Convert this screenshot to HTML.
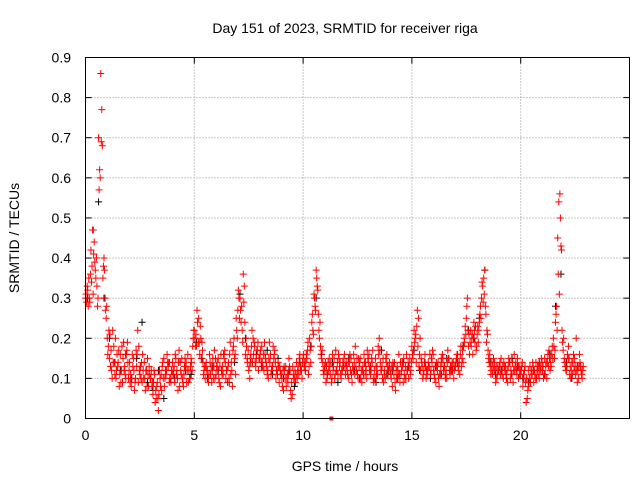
<!DOCTYPE html>
<html><head><meta charset="utf-8"><style>
html,body{margin:0;padding:0;background:#fff;}
svg{display:block;font-family:"Liberation Sans",sans-serif;}
</style></head><body>
<svg id="chart" width="640" height="480" viewBox="0 0 640 480">
<rect width="640" height="480" fill="#fff"/>
<g id="grid"></g>
<g id="ticks"></g>
<g id="black"></g>
<g id="red"></g>
<rect x="85.5" y="57.5" width="544" height="361" fill="none" stroke="#000"/>
<text x="345" y="33" text-anchor="middle" font-size="14">Day 151 of 2023, SRMTID for receiver riga</text>
<text x="345" y="471" text-anchor="middle" font-size="14">GPS time / hours</text>
<text transform="translate(19,238) rotate(-90)" text-anchor="middle" font-size="14">SRMTID / TECUs</text>
</svg>
<script>
const xTicks=[0,5,10,15,20];
const yTicks=[0,0.1,0.2,0.3,0.4,0.5,0.6,0.7,0.8,0.9];
const red1=[.30,.32,.29,.38,.44,.40,.70,.86,.35,.30,
.20,.15,.12,.18,.10,.14,.16,.09,.13,.17,
.12,.08,.15,.10,.22,.11,.09,.14,.12,.08,
.10,.06,.04,.09,.12,.07,.15,.11,.13,.10,
.14,.09,.12,.17,.11,.08,.13,.16,.10,.12,
.22,.18,.25,.20,.14,.10,.12,.16,.09,.13,
.11,.15,.08,.13,.17,.12,.10,.14,.18,.11,
.27,.30,.22,.33,.18,.12,.16,.20,.14,.17,
.15,.18,.12,.14,.10,.16,.13,.17,.12,.09,
.11,.07,.13,.09,.12,.06,.10,.14,.11,.13,
.15,.12,.17,.20,.24,.31,.37,.26,.18,.14,
.12,.10,.15,.09,.13,.17,.11,.14,.12,.16,
.13,.10,.15,.12,.18,.11,.14,.09,.16,.12,
.14,.11,.17,.10,.13,.20,.12,.09,.15,.11,
.12,.08,.14,.10,.16,.11,.09,.13,.12,.15,
.18,.22,.14,.25,.12,.10,.16,.11,.13,.15,
.12,.09,.14,.11,.16,.13,.10,.15,.12,.14,
.13,.16,.11,.15,.20,.25,.18,.22,.16,.19,
.21,.24,.30,.35,.26,.17,.13,.11,.14,.10,
.12,.15,.10,.13,.09,.14,.11,.16,.12,.10,
.11,.08,.13,.05,.10,.12,.09,.14,.11,.13,
.12,.15,.10,.17,.13,.20,.24,.45,.56,.22,
.15,.12,.18,.10,.14,.13,.09,.16,.11];
const red2=[.29,.35,.42,.31,.37,.28,.62,.77,.40,.25,
.18,.13,.22,.11,.16,.08,.12,.19,.10,.14,
.09,.16,.07,.13,.18,.10,.12,.07,.15,.11,
.08,.12,.05,.02,.08,.14,.10,.16,.09,.12,
.11,.15,.07,.14,.10,.13,.09,.12,.15,.20,
.18,.24,.16,.19,.12,.14,.09,.11,.15,.10,
.14,.09,.12,.16,.10,.13,.19,.08,.15,.22,
.30,.24,.36,.16,.14,.10,.22,.19,.15,.12,
.17,.13,.16,.11,.19,.12,.15,.10,.14,.12,
.08,.12,.10,.15,.05,.11,.09,.12,.16,.10,
.13,.16,.11,.14,.22,.28,.33,.20,.15,.11,
.09,.14,.11,.16,.10,.12,.15,.10,.13,.11,
.11,.16,.09,.14,.12,.15,.10,.13,.11,.17,
.12,.15,.09,.13,.18,.14,.10,.12,.16,.13,
.10,.13,.07,.12,.09,.14,.11,.16,.10,.12,
.15,.20,.27,.16,.14,.12,.10,.14,.11,.17,
.10,.13,.08,.15,.12,.10,.17,.11,.14,.12,
.15,.12,.18,.14,.23,.30,.16,.20,.24,.17,
.19,.28,.33,.37,.22,.14,.12,.15,.09,.13,
.14,.11,.13,.10,.15,.12,.09,.13,.15,.11,
.13,.10,.04,.12,.09,.14,.11,.12,.10,.15,
.10,.13,.16,.12,.18,.15,.28,.54,.43,.17,
.13,.16,.11,.14,.12,.20,.10,.13,.12];
const red3=[.31,.28,.36,.47,.39,.33,.57,.69,.38,.27,
.16,.21,.10,.14,.12,.17,.09,.15,.11,.19,
.14,.10,.12,.17,.09,.13,.16,.10,.08,.13,
.12,.09,.07,.05,.10,.13,.08,.12,.14,.09,
.12,.16,.10,.08,.15,.11,.14,.09,.13,.18,
.20,.27,.19,.15,.11,.13,.10,.14,.12,.17,
.13,.10,.16,.11,.14,.09,.16,.12,.20,.25,
.32,.27,.19,.24,.15,.13,.18,.16,.13,.19,
.16,.14,.19,.13,.15,.11,.18,.14,.11,.13,
.10,.13,.08,.11,.07,.13,.12,.10,.15,.12,
.16,.14,.19,.17,.26,.30,.35,.22,.16,.12,
.14,.11,.13,.10,.15,.12,.16,.11,.14,.13,
.12,.14,.11,.16,.13,.10,.15,.12,.14,.10,
.16,.12,.10,.15,.11,.17,.13,.11,.14,.12,
.11,.14,.09,.13,.11,.12,.15,.10,.14,.11,
.16,.19,.23,.13,.15,.11,.13,.12,.16,.14,
.11,.14,.10,.13,.15,.11,.14,.12,.13,.10,
.14,.13,.16,.17,.19,.28,.21,.18,.20,.23,
.23,.26,.34,.31,.19,.15,.11,.13,.12,.11,
.13,.12,.14,.11,.13,.10,.14,.12,.11,.13,
.12,.11,.09,.07,.13,.11,.12,.10,.13,.12,
.13,.11,.14,.15,.16,.18,.26,.36,.50,.19,
.14,.13,.15,.12,.16,.11,.12,.14,.10];
const red4=[.33,.30,.34,.41,.35,.30,.60,.68,.37,.28,
.22,.17,.14,.20,.13,.11,.18,.12,.16,.10,
.11,.13,.09,.16,.12,.14,.10,.12,.11,.10,
.09,.11,.08,.06,.11,.10,.12,.14,.10,.11,
.13,.11,.14,.12,.09,.15,.12,.10,.14,.22,
.21,.19,.23,.17,.13,.12,.11,.13,.10,.15,
.12,.13,.11,.15,.12,.14,.11,.17,.16,.20,
.25,.28,.29,.20,.17,.15,.14,.18,.17,.15,
.14,.16,.15,.12,.14,.13,.16,.12,.13,.11,
.12,.10,.11,.13,.09,.10,.11,.13,.12,.14,
.14,.15,.13,.18,.21,.27,.32,.24,.17,.13,
.13,.12,.14,.12,.11,.14,.13,.12,.15,.14,
.14,.12,.13,.11,.15,.13,.12,.11,.13,.15,
.13,.14,.12,.11,.16,.12,.15,.10,.13,.14,
.13,.11,.12,.11,.14,.13,.10,.12,.13,.14,
.17,.21,.18,.20,.13,.14,.12,.13,.12,.16,
.13,.12,.11,.14,.13,.12,.15,.13,.12,.13,
.16,.14,.13,.18,.21,.22,.19,.21,.22,.18,
.22,.25,.29,.28,.21,.16,.14,.12,.13,.12,
.11,.13,.12,.12,.14,.11,.12,.14,.13,.12,
.14,.12,.10,.08,.11,.13,.10,.13,.12,.14,
.11,.14,.13,.14,.15,.17,.22,.31,.42,.20,
.12,.15,.13,.11,.15,.12,.13,.12,.13];
const blackVals=[.30,.47,.54,.30,.20,.14,.12,.16,.10,.15,.24,.09,.07,.12,.05,.14,
.10,.14,.12,.11,.19,.15,.10,.13,.12,.16,.09,.14,.31,.20,.14,.16,.13,.17,.11,.15,
.10,.12,.08,.14,.12,.18,.30,.16,.11,.14,.09,.13,.15,.12,.10,.14,.13,.09,.17,.11,
.12,.10,.14,.13,.17,.12,.14,.10,.13,.11,.15,.12,.14,.18,.22,.20,.25,.37,.14,.11,
.12,.10,.15,.13,.10,.09,.12,.14,.11,.16,.28,.36,.14,.10,.13];
const outlierT=[11.3], outlierV=[0];
const step=0.1, offsets=[0,0.05,0.025,0.075], stepB=0.25, offsetB=0.1;

const X=h=>85.5+h*(544/25);
const Y=v=>418.5-v*(361/0.9);
const NS="http://www.w3.org/2000/svg";
function mk(tag,attrs,parent){const e=document.createElementNS(NS,tag);for(const k in attrs)e.setAttribute(k,attrs[k]);parent.appendChild(e);return e;}
const grid=document.getElementById('grid'),ticks=document.getElementById('ticks');
xTicks.forEach(t=>{
 const x=X(t);
 if(t>0){const l=mk('line',{x1:x,y1:57.5,x2:x,y2:418.5,stroke:'#909090','stroke-dasharray':'1,2'},grid);
 
 }
 mk('line',{x1:x,y1:418.5,x2:x,y2:412.5,stroke:'#000'},ticks);
 mk('line',{x1:x,y1:57.5,x2:x,y2:63.5,stroke:'#000'},ticks);
 const tx=mk('text',{x:x,y:440,'text-anchor':'middle','font-size':'14'},ticks);
 tx.textContent=t;
 
 
});
yTicks.forEach(t=>{
 const y=Y(t);
 if(t>0&&t<0.9){const l=mk('line',{x1:85.5,y1:y,x2:629.5,y2:y,stroke:'#909090','stroke-dasharray':'1,2'},grid);
 
 }
 mk('line',{x1:85.5,y1:y,x2:91.5,y2:y,stroke:'#000'},ticks);
 mk('line',{x1:629.5,y1:y,x2:623.5,y2:y,stroke:'#000'},ticks);
 const tx=mk('text',{x:71,y:y+5,'text-anchor':'end','font-size':'14'},ticks);
 tx.textContent=(t===0?'0':t.toFixed(1));
 
 
});
function plus(g,t,v,color){
 const x=X(t),y=Y(v);
 const p=mk('path',{d:`M${x-3.5},${y}h7M${x},${y-3.5}v7`,stroke:color,'stroke-width':1,fill:'none'},g);
 
 
}
const gb=document.getElementById('black'),gr=document.getElementById('red');
blackVals.forEach((v,i)=>plus(gb,i*stepB+offsetB,v,'#000'));
[red1,red2,red3,red4].forEach((arr,k)=>arr.forEach((v,i)=>plus(gr,i*step+offsets[k],v,'#ff0000')));
outlierT.forEach((t,i)=>{
 const r=mk('rect',{x:X(t)-2,y:Y(outlierV[i])-2,width:4,height:4,fill:'#ff0000'},gr);
 
 
});
</script>
</body></html>
